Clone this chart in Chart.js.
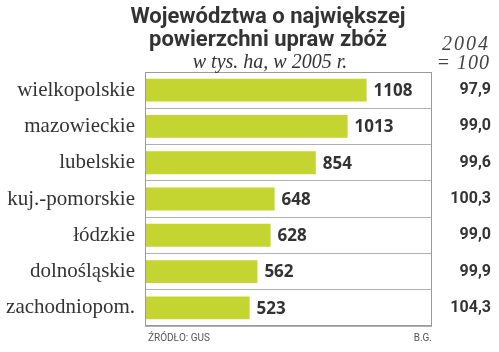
<!DOCTYPE html>
<html><head><meta charset="utf-8">
<script src="https://cdn.jsdelivr.net/npm/chart.js@4/dist/chart.umd.min.js"></script>
<style>html,body{margin:0;padding:0;background:#fff}#wrap{width:499px;height:352px;position:relative}</style>
</head><body><div id="wrap"><canvas id="c" width="499" height="352"></canvas></div>
<script>
const categories = ["wielkopolskie","mazowieckie","lubelskie","kuj.-pomorskie","łódzkie","dolnośląskie","zachodniopom."];
const area2005 = [1108,1013,854,648,628,562,523];
const index2004 = ["97,9","99,0","99,6","100,3","99,0","99,9","104,3"];
const titleLines = ["Województwa o największej","powierzchni upraw zbóż"];
const subtitle = "w tys. ha, w 2005 r.";
const indexHeader = ["2004","= 100"];
const sourceText = "ŹRÓDŁO: GUS";
const authorText = "B.G.";

const extras = {
  id:'extras',
  afterDatasetsDraw(chart){
    const ctx = chart.ctx, a = chart.chartArea;
    ctx.save();
    // frame
    ctx.strokeStyle = '#9a9a9a'; ctx.lineWidth = 1;
    ctx.strokeRect(Math.round(a.left)+0.5, Math.round(a.top)+0.5, Math.round(a.right-a.left)-1, Math.round(a.bottom-a.top)-1);
    // value labels
    const meta = chart.getDatasetMeta(0);
    ctx.fillStyle = '#333';
    ctx.font = "700 17px 'Open Sans'";
    ctx.textAlign='left'; ctx.textBaseline='middle';
    meta.data.forEach((el,i)=>{ ctx.fillText(String(area2005[i]), el.x+7, el.y+1); });
    // index column
    ctx.font = "700 16px Roboto";
    ctx.textAlign='right';
    const ys = chart.scales.y;
    index2004.forEach((v,i)=>{ ctx.fillText(v, 491, ys.getPixelForValue(i)); });
    // titles
    ctx.textBaseline='alphabetic'; ctx.textAlign='center';
    ctx.fillStyle='#333';
    ctx.font = "700 22px 'Liberation Sans Narrow', Roboto";
    ctx.fillText(titleLines[0], 268, 23);
    ctx.fillText(titleLines[1], 268, 46);
    ctx.font = "italic 20px 'Liberation Serif'";
    ctx.fillText(subtitle, 270, 68);
    ctx.fillStyle='#444';
    ctx.textAlign='right';
    ctx.letterSpacing = '2px';
    ctx.fillText(indexHeader[0], 490, 50);
    ctx.letterSpacing = '1px';
    ctx.fillText(indexHeader[1], 490, 69);
    ctx.letterSpacing = '0px';
    // footer
    ctx.font = "10px 'Liberation Sans Narrow', Roboto";
    ctx.fillStyle='#555';
    ctx.textAlign='left';
    ctx.fillText(sourceText, 148, 341);
    ctx.textAlign='right';
    ctx.fillText(authorText, 432, 341);
    ctx.restore();
  }
};

new Chart(document.getElementById('c'), {
  type:'bar',
  data:{ labels:categories, datasets:[{ data:area2005, backgroundColor:'#c4d431', borderWidth:0, categoryPercentage:1, barPercentage:0.63 }]},
  options:{
    indexAxis:'y', responsive:false, animation:false, devicePixelRatio:1,
    layout:{ padding:{ top:72, right:67, bottom:26, left:0 } },
    plugins:{ legend:{display:false}, tooltip:{enabled:false} },
    scales:{
      x:{ display:false, min:0, max:1435 },
      y:{
        afterFit(s){ s.width = 145; },
        grid:{ offset:true, color:'#b0b0b0', drawTicks:false, lineWidth:1 },
        border:{ display:false },
        ticks:{ color:'#333', font:{ family:"'Liberation Serif'", size:21 }, padding:10 }
      }
    }
  },
  plugins:[extras]
});
</script></body></html>
